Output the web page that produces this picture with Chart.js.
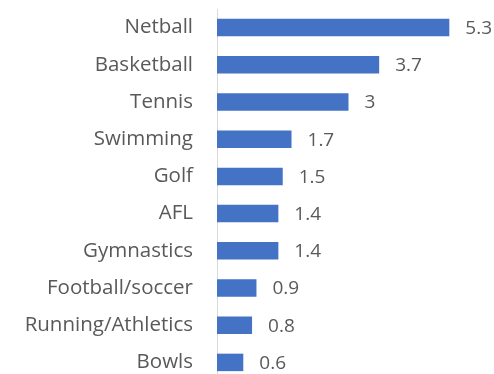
<!DOCTYPE html>
<html>
<head>
<meta charset="utf-8">
<script src="https://cdn.jsdelivr.net/npm/chart.js@4"></script>
<style>
html,body{margin:0;padding:0;background:#fff;overflow:hidden;width:494px;height:374px;}
#wrap{position:relative;width:494px;height:381px;}
</style>
</head>
<body>
<div id="wrap"><canvas id="c"></canvas></div>
<script>
const categories = ["Netball","Basketball","Tennis","Swimming","Golf","AFL","Gymnastics","Football/soccer","Running/Athletics","Bowls"];
const values = [5.3, 3.7, 3, 1.7, 1.5, 1.4, 1.4, 0.9, 0.8, 0.6];
const xMin = 0, xMax = 6;

const FONT = '"Open Sans", sans-serif';
const TEXT = '#595959';

const valueLabels = {
  id: 'valueLabels',
  afterDatasetsDraw(chart) {
    const ctx = chart.ctx;
    const meta = chart.getDatasetMeta(0);
    ctx.save();
    ctx.font = '19px ' + FONT;
    ctx.fillStyle = TEXT;
    ctx.textAlign = 'left';
    ctx.textBaseline = 'middle';
    meta.data.forEach((bar, i) => {
      ctx.fillText(String(values[i]), bar.x + 16, bar.y + 1);
    });
    ctx.restore();
  }
};

new Chart(document.getElementById('c'), {
  type: 'bar',
  data: {
    labels: categories,
    datasets: [{
      data: values,
      backgroundColor: '#4472C4',
      borderWidth: 0,
      categoryPercentage: 1,
      barPercentage: 0.47
    }]
  },
  options: {
    indexAxis: 'y',
    responsive: true,
    maintainAspectRatio: false,
    animation: false,
    layout: { padding: { top: 9, right: 14, bottom: 0, left: 0 } },
    plugins: { legend: { display: false }, tooltip: { enabled: false } },
    scales: {
      x: { display: false, min: xMin, max: xMax },
      y: {
        afterFit(scale) { scale.width = 217; scale.paddingTop = 0; scale.paddingBottom = 0; },
        grid: { display: false, drawTicks: false },
        border: { display: true, color: '#d9d9d9', width: 1 },
        ticks: { color: TEXT, font: { family: FONT, size: 20.5 }, padding: 24 }
      }
    }
  },
  plugins: [valueLabels]
});
</script>
</body>
</html>
